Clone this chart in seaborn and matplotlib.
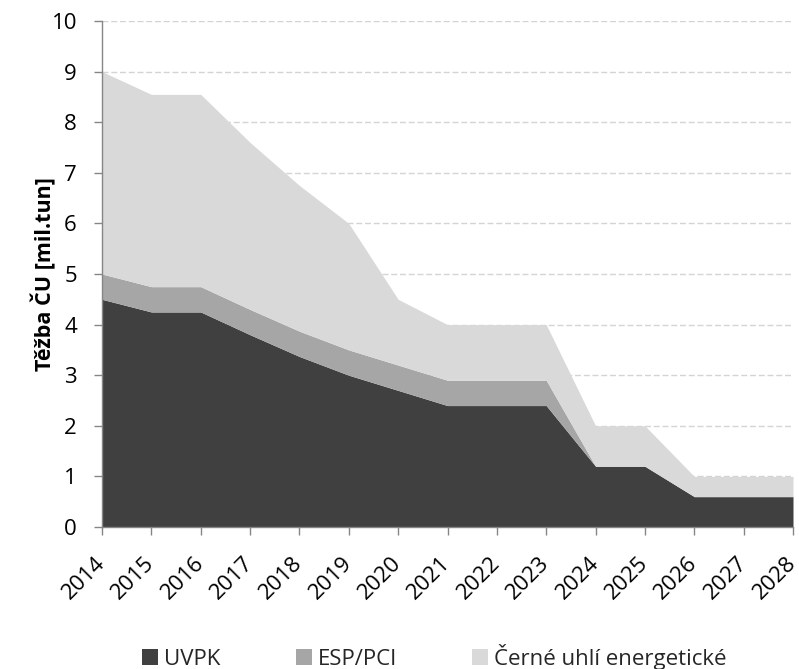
import matplotlib
matplotlib.use("Agg")
import matplotlib.pyplot as plt
import seaborn as sns
from matplotlib.patches import Patch

# Hard-coal output by category, million tonnes
years = [2014, 2015, 2016, 2017, 2018, 2019, 2020, 2021,
         2022, 2023, 2024, 2025, 2026, 2027, 2028]
uvpk = [4.5, 4.25, 4.25, 3.8, 3.37, 3.0, 2.7, 2.4, 2.4, 2.4, 1.2, 1.2, 0.6, 0.6, 0.6]
esp_pci = [0.5, 0.5, 0.5, 0.5, 0.5, 0.5, 0.5, 0.5, 0.5, 0.5, 0.0, 0.0, 0.0, 0.0, 0.0]
energeticke = [4.0, 3.8, 3.8, 3.3, 2.88, 2.5, 1.3, 1.1, 1.1, 1.1, 0.8, 0.8, 0.4, 0.4, 0.4]

series_names = ["UVPK", "ESP/PCI", "Černé uhlí energetické"]
colors = ["#404040", "#a6a6a6", "#d9d9d9"]
y_ticks = list(range(0, 11))

sns.set_theme(style="white")
plt.rcParams["font.family"] = ["Open Sans", "DejaVu Sans"]

fig = plt.figure(figsize=(7.99, 6.69), dpi=100)
ax = fig.add_axes([102 / 799, (669 - 527) / 669, 691 / 799, 506 / 669])

ax.stackplot(years, uvpk, esp_pci, energeticke, colors=colors,
             linewidth=0, zorder=2)

ax.set_xlim(years[0], years[-1])
ax.set_ylim(0, 10)
ax.set_xticks(years)
ax.set_xticklabels([str(y) for y in years], rotation=45,
                   ha="right", va="center", rotation_mode="anchor")
ax.set_yticks(y_ticks)

for y in y_ticks[1:]:
    ax.axhline(y, color="#d4d4d4", linestyle=(0, (4.3, 2)), linewidth=1.0, zorder=1)

for side in ["top", "right"]:
    ax.spines[side].set_visible(False)
for side in ["left", "bottom"]:
    ax.spines[side].set_color("#868686")
    ax.spines[side].set_linewidth(1.0)

ax.tick_params(axis="both", which="major", direction="out", length=6,
               width=1.0, color="#868686", labelsize=16, labelcolor="black",
               left=True, bottom=True)
ax.tick_params(axis="y", pad=12)
ax.tick_params(axis="x", pad=18)

ax.set_ylabel("Těžba ČU [mil.tun]", fontsize=15.5, fontweight="bold", color="black")
ax.yaxis.set_label_coords((56 - 102) / 691, 0.5)

handles = [Patch(facecolor=c, edgecolor="none", label=n)
           for c, n in zip(colors, series_names)]
fig.legend(handles=handles, loc="center", bbox_to_anchor=(434.5 / 799, 1 - 657 / 669),
           ncol=3, frameon=False, fontsize=16, handlelength=0.72,
           handleheight=0.72, handletextpad=0.27, columnspacing=3.38,
           borderpad=0, borderaxespad=0)

fig.savefig("out.png", dpi=100)
